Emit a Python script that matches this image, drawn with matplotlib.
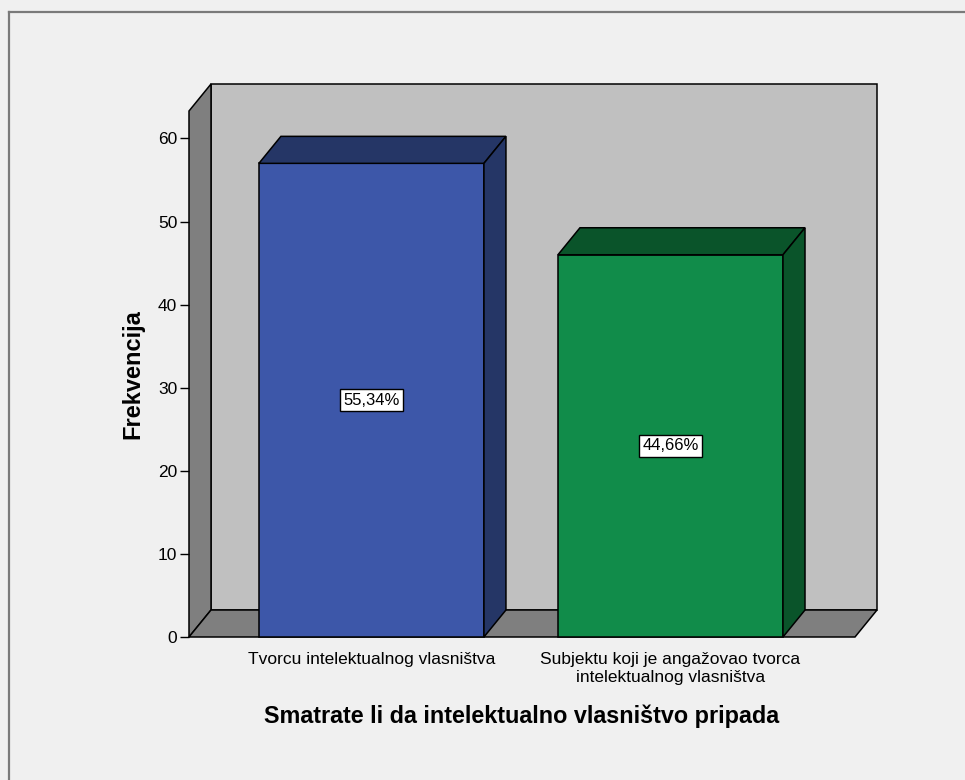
import matplotlib
matplotlib.use("Agg")
import matplotlib.pyplot as plt
from matplotlib.patches import Polygon
from matplotlib.lines import Line2D

categories = ["Tvorcu intelektualnog vlasništva",
              "Subjektu koji je angažovao tvorca\nintelektualnog vlasništva"]
counts = [57, 46]
y_ticks = [0, 10, 20, 30, 40, 50, 60]

front_colors = ["#3D57A9", "#118C4A"]
dark_colors = ["#253666", "#0A542A"]

plt.rcParams['font.family'] = ['Liberation Sans', 'DejaVu Sans']

# 3D frame geometry (data units)
bar_w = 0.7525
x0, x1 = -0.610, 1.617        # front plane extent
dx, dy = 0.0736, 3.25         # depth offset
y_front_top = 63.3


def poly(ax, pts, color, z=1):
    ax.add_patch(Polygon(pts, closed=True, facecolor=color, edgecolor='black',
                         linewidth=1.1, joinstyle='miter', clip_on=False, zorder=z))


def main():
    fig = plt.figure(figsize=(9.65, 7.8), dpi=100, facecolor='#F0F0F0')
    ax = fig.add_axes([189 / 965, (780 - 637) / 780, 688 / 965, 553 / 780])
    ax.set_facecolor('none')
    ax.set_xlim(x0, x1 + dx)
    ax.set_ylim(0, y_front_top + dy)
    for s in ax.spines.values():
        s.set_visible(False)

    ytop = y_front_top + dy
    # walls and floor
    poly(ax, [(x0 + dx, dy), (x1 + dx, dy), (x1 + dx, ytop), (x0 + dx, ytop)], '#C0C0C0')
    poly(ax, [(x0, 0), (x0 + dx, dy), (x0 + dx, ytop), (x0, y_front_top)], '#7F7F7F')
    poly(ax, [(x0, 0), (x1, 0), (x1 + dx, dy), (x0 + dx, dy)], '#7F7F7F')

    total = sum(counts)
    for i, v in enumerate(counts):
        l, r = i - bar_w / 2, i + bar_w / 2
        poly(ax, [(l, 0), (r, 0), (r, v), (l, v)], front_colors[i], 3)
        poly(ax, [(l, v), (r, v), (r + dx, v + dy), (l + dx, v + dy)], dark_colors[i], 3)
        poly(ax, [(r, 0), (r + dx, dy), (r + dx, v + dy), (r, v)], dark_colors[i], 3)
        pct = f"{v / total * 100:.2f}%".replace('.', ',')
        ax.text(i, v / 2, pct, ha='center', va='center', fontsize=12, zorder=5,
                bbox=dict(boxstyle='square,pad=0.2', facecolor='white',
                          edgecolor='black', linewidth=1.0))

    ax.set_yticks(y_ticks)
    ax.set_yticklabels([str(t) for t in y_ticks])
    ax.tick_params(axis='y', direction='out', length=6.5, width=1, pad=2,
                   labelsize=12.5, colors='black')
    ax.set_xticks(range(len(categories)))
    ax.set_xticklabels(categories, fontsize=12.5)
    ax.tick_params(axis='x', length=0, pad=11)

    ax.text((x0 + x1) / 2, -0.143, "Smatrate li da intelektualno vlasništvo pripada",
            transform=ax.get_xaxis_transform(), ha='center', va='center',
            fontsize=16.8, fontweight='bold')
    ax.text(-0.0814, y_front_top / 2, "Frekvencija", transform=ax.get_yaxis_transform(),
            ha='center', va='center', rotation=90, fontsize=17, fontweight='bold')

    # outer frame (top and left edges)
    fig.add_artist(Line2D([9 / 965, 9 / 965], [0, 1 - 12 / 780], color='#7A7A7A',
                          linewidth=1.6, transform=fig.transFigure))
    fig.add_artist(Line2D([9 / 965, 1], [1 - 12 / 780, 1 - 12 / 780], color='#7A7A7A',
                          linewidth=1.6, transform=fig.transFigure))

    fig.savefig('out.png', dpi=100, facecolor=fig.get_facecolor())


if __name__ == '__main__':
    main()
